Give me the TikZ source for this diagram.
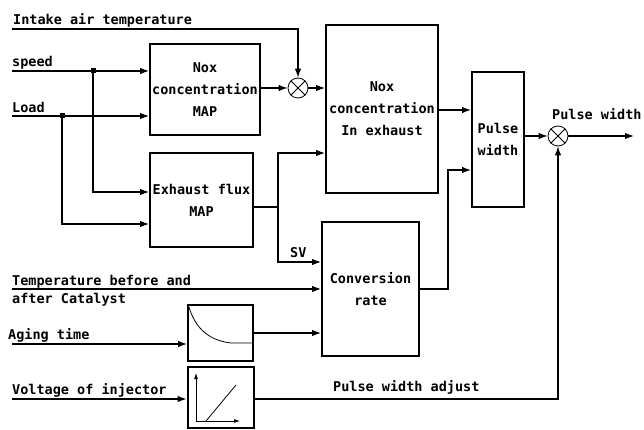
\documentclass[tikz,border=0pt]{standalone}
\usepackage{fontspec}
\setmainfont{DejaVu Sans Mono}
\usetikzlibrary{arrows.meta}
\begin{document}
\begin{tikzpicture}[x=1pt,y=-1pt,
  font=\fontsize{13.5}{22}\selectfont\bfseries,
  box/.style={draw,line width=2pt,inner sep=0pt,align=center},
  mult/.style={draw,circle,line width=0.8pt,minimum size=20pt,inner sep=0pt},
  arr/.style={line width=1.1pt,-{Latex[length=9pt,width=6.5pt]}},
  ln/.style={line width=1.1pt},
  thin/.style={line width=0.8pt},
  lbl/.style={anchor=base west,inner sep=0pt},
  jdot/.style={fill,minimum size=5pt,inner sep=0pt},
]
\fill[white] (0,0) rectangle (644,430);
\useasboundingbox (0,0) rectangle (644,430);

% blocks
\node[box,minimum width=110pt,minimum height=91pt] (nm) at (205,89.5) {Nox\\concentration\\MAP};
\node[box,minimum width=103pt,minimum height=94pt] (ex) at (201.5,200) {Exhaust flux\\MAP};
\node[box,minimum width=112pt,minimum height=168pt] (ne) at (382,109) {Nox\\concentration\\In exhaust};
\node[box,minimum width=97pt,minimum height=134pt] (cr) at (370.5,289) {Conversion\\rate};
\node[box,minimum width=52pt,minimum height=135pt] (pw) at (498,139.5) {Pulse\\width};
\node[box,minimum width=65pt,minimum height=56pt] (ag) at (220.5,333) {};
\node[box,minimum width=66pt,minimum height=61pt] (vt) at (220.5,397.5) {};
\node[mult] (m1) at (298,88) {};
\draw[thin] (m1.north east) -- (m1.south west) (m1.north west) -- (m1.south east);
\node[mult] (m2) at (558,136) {};
\draw[thin] (m2.north east) -- (m2.south west) (m2.north west) -- (m2.south east);

% labels
\node[lbl] (tIA) at (13,25) {Intake air temperature};
\node[lbl] (tSp) at (12,67) {speed};
\node[lbl] (tLd) at (12,113) {Load};
\node[lbl] (tT1) at (12,285.5) {Temperature before and};
\node[lbl] (tT2) at (12,303) {after Catalyst};
\node[lbl] (tAg) at (8,339) {Aging time};
\node[lbl] (tVt) at (12,394) {Voltage of injector};
\node[lbl] (tSV) at (290,257) {SV};
\node[lbl] (tPW) at (552,120) {Pulse width};
\node[lbl] (tPA) at (333,391) {Pulse width adjust};

% coordinates
\coordinate (iaL) at (12,29);
\coordinate (spL) at (12,71);
\coordinate (spJ) at (93,71);
\coordinate (spD) at (93,192);
\coordinate (ldL) at (12,116);
\coordinate (ldJ) at (62,116);
\coordinate (ldD) at (62,224);
\coordinate (exJ) at (278,207);
\coordinate (exU) at (278,153);
\coordinate (exD) at (278,262);
\coordinate (tcL) at (12,289);
\coordinate (agL) at (12,344);
\coordinate (agO) at (253,333);
\coordinate (vtL) at (12,399);
\coordinate (vtC) at (558,399);
\coordinate (neO) at (438,110);
\coordinate (crA) at (448,289);
\coordinate (crB) at (448,170);
\coordinate (outR) at (634,136);

% connectors
\draw[arr] (iaL) -| (m1.north);
\draw[arr] (spL) -- (nm.west |- spL);
\draw[arr] (spJ) -- (spD) -- (ex.west |- spD);
\node[jdot] (dsp) at (spJ) {};
\draw[arr] (ldL) -- (nm.west |- ldL);
\draw[arr] (ldJ) -- (ldD) -- (ex.west |- ldD);
\node[jdot] (dld) at (ldJ) {};
\draw[arr] (nm.east |- m1) -- (m1.west);
\draw[arr] (m1.east) -- (ne.west |- m1);
\draw[ln] (ex.east |- exJ) -- (exJ);
\draw[arr] (exJ) -- (exU) -- (ne.west |- exU);
\draw[arr] (exJ) -- (exD) -- (cr.west |- exD);
\draw[arr] (tcL) -- (cr.west |- tcL);
\draw[arr] (agL) -- (ag.west |- agL);
\draw[arr] (ag.east |- agO) -- (cr.west |- agO);
\draw[arr] (vtL) -- (vt.west |- vtL);
\draw[arr] (vt.east |- vtL) -- (vtC) -- (m2.south);
\draw[arr] (ne.east |- neO) -- (pw.west |- neO);
\draw[arr] (cr.east |- crA) -- (crA) -- (crB) -- (pw.west |- crB);
\draw[arr] (pw.east |- m2) -- (m2.west);
\draw[arr] (m2.east) -- (outR);

% curves inside small blocks
\draw[thin] (189,307) .. controls (194,324) and (205,340) .. (231,343) -- (253,343);
\draw[thin,-{Latex[length=6pt,width=4pt]}] (196,421) -- (196,373);
\draw[thin,-{Latex[length=6pt,width=4pt]}] (196,421) -- (240,421);
\draw[thin] (206,421) -- (236,385);
\end{tikzpicture}
\end{document}
